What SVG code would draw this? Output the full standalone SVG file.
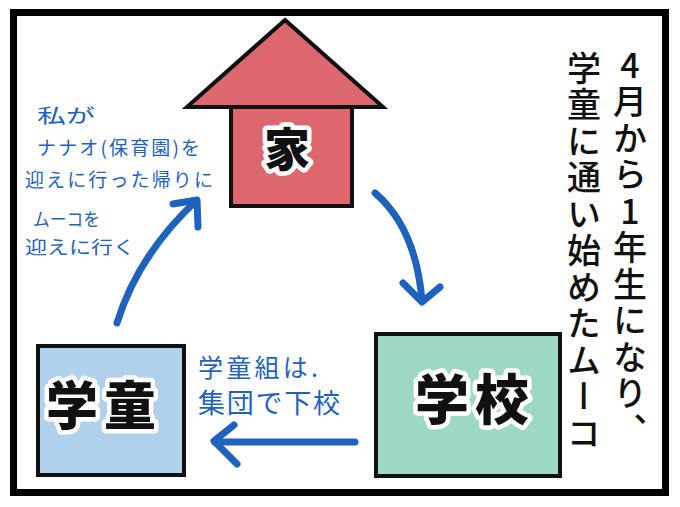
<svg xmlns="http://www.w3.org/2000/svg" width="680" height="507" viewBox="0 0 680 507">
<defs>
<style>
.box{stroke:#111;stroke-width:4;stroke-linejoin:miter}
.lbl{font-family:"Noto Sans CJK JP","Noto Sans CJK SC",sans-serif;font-weight:900;fill:#111;stroke:#fff;stroke-width:9;stroke-linejoin:round;paint-order:stroke;text-anchor:middle}
.hand{font-family:"Noto Sans CJK JP","Noto Sans CJK SC",sans-serif;font-weight:400;fill:#1f62bd}
.vt{font-family:"Noto Sans CJK JP","Noto Sans CJK SC",sans-serif;font-weight:500;font-size:34px;fill:#111;writing-mode:vertical-rl;text-orientation:upright;letter-spacing:2.5px}
.arr{fill:none;stroke:#1f62bd;stroke-width:7;stroke-linecap:round;stroke-linejoin:round}
</style>
</defs>
<rect x="0" y="0" width="680" height="507" fill="#fff"/>
<rect x="13.5" y="12.5" width="652" height="480" fill="#fff" stroke="#000" stroke-width="7"/>
<g id="node-home">
<polygon class="box" points="285,20 187,107 383,107" fill="#dc676e"/>
<rect class="box" x="231" y="107" width="121" height="99" fill="#dc676e"/>
<text class="lbl" x="287" y="166" font-size="46">家</text>
</g>
<g id="node-school">
<rect class="box" x="376" y="334" width="184" height="142" fill="#9dd8c5"/>
<text class="lbl" x="475" y="420" font-size="54" letter-spacing="6">学校</text>
</g>
<g id="node-gakudo">
<rect class="box" x="38" y="346" width="146" height="129" fill="#b0d0eb"/>
<text class="lbl" x="104" y="425" font-size="52" letter-spacing="6">学童</text>
</g>
<g id="connectors">
<path class="arr" d="M375,193 Q416,228 422,301"/>
<path class="arr" d="M403,283 L422,302 L440,287"/>
<path class="arr" d="M355,442 L215,442"/>
<path class="arr" d="M234,425 L214,441 L237,464"/>
<path class="arr" d="M117,323 Q138,255 196,201"/>
<path class="arr" d="M173,204 L197,200 L198,227"/>
</g>
<g id="notes">
<text class="hand" x="37" y="123" font-size="19" textLength="58" lengthAdjust="spacingAndGlyphs">私が</text>
<text class="hand" x="37" y="155" font-size="19" textLength="163" lengthAdjust="spacing">ナナオ(保育園)を</text>
<text class="hand" x="25" y="187" font-size="19" textLength="188" lengthAdjust="spacing">迎えに行った帰りに</text>
<text class="hand" x="33" y="226" font-size="18" textLength="67" lengthAdjust="spacingAndGlyphs">ムーコを</text>
<text class="hand" x="25" y="254" font-size="18" textLength="110" lengthAdjust="spacingAndGlyphs">迎えに行く</text>
<text class="hand" x="198" y="377" font-size="25" textLength="120" lengthAdjust="spacing">学童組は.</text>
<text class="hand" x="198" y="413" font-size="27" textLength="142" lengthAdjust="spacing">集団で下校</text>
</g>
<g id="title">
<text class="vt" x="630" y="48">4月から1年生になり、</text>
<text class="vt" x="584" y="51">学童に通い始めたムーコ</text>
</g>
</svg>
